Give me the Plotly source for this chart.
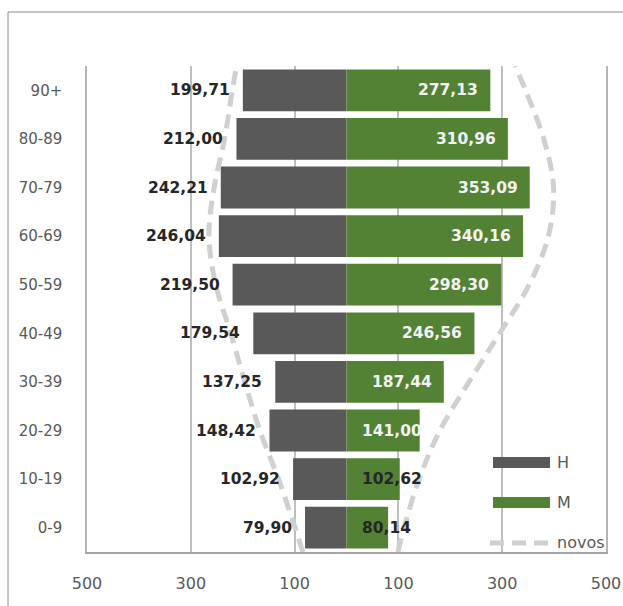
import plotly.graph_objects as go

# ---- data ----
age_groups = ["0-9", "10-19", "20-29", "30-39", "40-49", "50-59", "60-69", "70-79", "80-89", "90+"]
homens = [79.90, 102.92, 148.42, 137.25, 179.54, 219.50, 246.04, 242.21, 212.00, 199.71]
mulheres = [80.14, 102.62, 141.00, 187.44, 246.56, 298.30, 340.16, 353.09, 310.96, 277.13]
# "novos" outline (estimated), bottom edge, each age group, top edge
novos_pos = [-0.5, 0, 1, 2, 3, 4, 5, 6, 7, 8, 9, 9.5]
novos_H = [84, 99, 131, 167, 196, 223, 252, 265, 255, 235, 220, 212]
novos_M = [99, 111, 140, 180, 236, 295, 352, 389, 399, 380, 345, 325]
x_tickvals = [-500, -300, -100, 100, 300, 500]
x_ticktext = ["500", "300", "100", "100", "300", "500"]

GRAY = "#595959"
GREEN = "#548235"
DASH = "#d0d0d0"
FONT = "DejaVu Sans"

ypos = list(range(len(age_groups)))

fig = go.Figure()
fig.add_trace(go.Bar(y=ypos, x=[-v for v in homens], orientation="h",
                     marker=dict(color=GRAY, line=dict(width=0)), name="H", showlegend=False))
fig.add_trace(go.Bar(y=ypos, x=mulheres, orientation="h",
                     marker=dict(color=GREEN, line=dict(width=0)), name="M", showlegend=False))
fig.add_trace(go.Scatter(y=novos_pos, x=[-v for v in novos_H], mode="lines",
                         line=dict(color=DASH, width=5, dash="14px,8px", shape="spline", smoothing=1),
                         name="novos", showlegend=False))
fig.add_trace(go.Scatter(y=novos_pos, x=novos_M, mode="lines",
                         line=dict(color=DASH, width=5, dash="14px,8px", shape="spline", smoothing=1),
                         name="novos", showlegend=False))

def fmt(v):
    return f"{v:.2f}".replace(".", ",")

ann = []
for y, v in zip(ypos, homens):
    ann.append(dict(x=-v, y=y, xref="x", yref="y", text="<b>" + fmt(v) + "</b>", showarrow=False,
                    xanchor="right", yanchor="middle", xshift=-11,
                    font=dict(family=FONT, size=15.5, color="#262626")))
for y, v in zip(ypos, mulheres):
    if v >= 175:
        ann.append(dict(x=v, y=y, xref="x", yref="y", text="<b>" + fmt(v) + "</b>", showarrow=False,
                        xanchor="right", yanchor="middle", xshift=-10,
                        font=dict(family=FONT, size=15.5, color="#f2f2f2")))
    else:
        col = "#f2f2f2" if v > 120 else "#262626"
        ann.append(dict(x=0, y=y, xref="x", yref="y", text="<b>" + fmt(v) + "</b>", showarrow=False,
                        xanchor="left", yanchor="middle", xshift=13,
                        font=dict(family=FONT, size=15.5, color=col)))

# manual legend
W, H = 519.0, 486.0
def px(x):
    return (x - 87) / W
def py(y):
    return (552 - y) / H

shapes = [
    dict(type="rect", xref="paper", yref="paper", x0=px(8), y0=-0.5, x1=1.5, y1=py(12),
         line=dict(color="#8c8c8c", width=1), fillcolor="rgba(0,0,0,0)", layer="below"),
    dict(type="rect", xref="paper", yref="paper", x0=px(493), x1=px(550), y0=py(468), y1=py(457),
         fillcolor=GRAY, line=dict(width=0)),
    dict(type="rect", xref="paper", yref="paper", x0=px(493), x1=px(550), y0=py(508), y1=py(497),
         fillcolor=GREEN, line=dict(width=0)),
    dict(type="line", xref="paper", yref="paper", x0=px(490), x1=px(552), y0=py(543), y1=py(543),
         line=dict(color=DASH, width=5, dash="14px,8px")),
]
for txt, yy in [("H", 462.5), ("M", 502.5), ("novos", 542)]:
    ann.append(dict(x=px(555), y=py(yy), xref="paper", yref="paper", text=txt, showarrow=False,
                    xanchor="left", yanchor="middle", font=dict(family=FONT, size=16, color=GRAY)))

fig.update_layout(
    width=623, height=606,
    margin=dict(l=87, r=17, t=66, b=54),
    paper_bgcolor="white", plot_bgcolor="white",
    barmode="relative", bargap=0.14,
    annotations=ann, shapes=shapes,
    showlegend=False,
    xaxis=dict(range=[-500, 500], tickvals=x_tickvals, ticktext=x_ticktext,
               showgrid=True, gridcolor="#bfbfbf", gridwidth=1.5, zeroline=False,
               showline=True, linecolor="#a6a6a6", linewidth=1.5, ticks="",
               tickfont=dict(family=FONT, size=16, color=GRAY), ticklabelstandoff=16,
               automargin=False, fixedrange=True),
    yaxis=dict(range=[-0.5, 9.5], tickvals=ypos, ticktext=age_groups,
               showgrid=False, zeroline=False, showline=True, linecolor="#b5b5b5", linewidth=1.5,
               mirror=True,
               ticks="", tickfont=dict(family=FONT, size=15, color=GRAY), ticklabelstandoff=20,
               automargin=False, fixedrange=True),
)

fig.write_html("out.html")
